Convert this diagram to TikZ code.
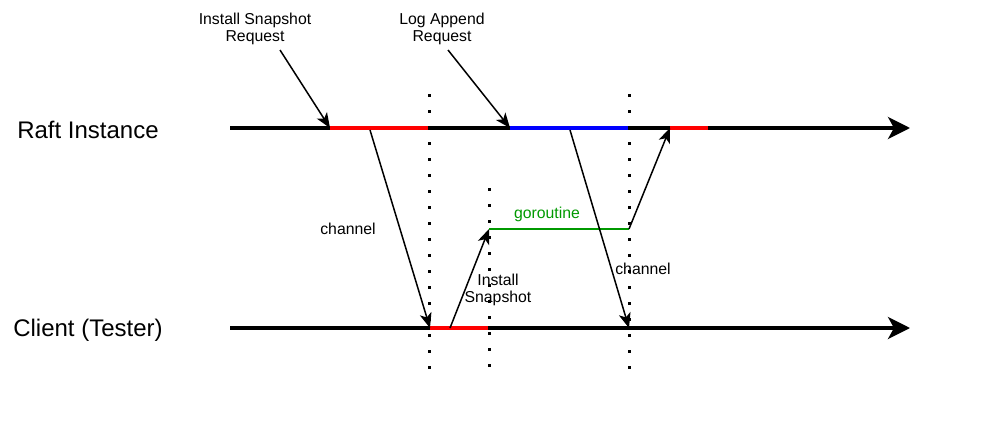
\documentclass[tikz,border=0pt]{standalone}
\usepackage{fontspec}
\setmainfont{Liberation Sans}
\usetikzlibrary{arrows.meta}
\begin{document}
\begin{tikzpicture}[x=1pt,y=-1pt,
  timeline/.style={line width=3.5pt,-{Stealth[length=22pt,width=22pt,inset=6pt]}},
  msg/.style={line width=1.5pt,-{Stealth[length=15pt,width=12pt,inset=4pt]}},
  seg/.style={line width=4.5pt},
  dotline/.style={line width=3pt,dash pattern=on 3pt off 13pt},
  lbl/.style={font=\fontsize{15.8}{17.5}\selectfont,align=center,inner sep=1pt},
  big/.style={font=\fontsize{24}{28}\selectfont,inner sep=0pt}]
\useasboundingbox (0,0) rectangle (998,444);
% labels
\node[big] (raft) at (88,130) {Raft Instance};
\node[big] (client) at (88,330) {Client (Tester)};
% coordinates
\coordinate (r0) at (230,128);
\coordinate (r1) at (910,128);
\coordinate (c0) at (230,328);
\coordinate (c1) at (910,328);
% dotted verticals
\coordinate (d1t) at (429,94); \coordinate (d1b) at (429,372);
\coordinate (d2t) at (489,188); \coordinate (d2b) at (489,372);
\coordinate (d3t) at (629,94); \coordinate (d3b) at (629,372);
\draw[dotline] (d1t) -- (d1b);
\draw[dotline] (d2t) -- (d2b);
\draw[dotline] (d3t) -- (d3b);
% timelines
\draw[timeline] (r0) -- (r1);
\draw[timeline] (c0) -- (c1);
% segments
\coordinate (ra) at (330,128); \coordinate (rb) at (428,128);
\coordinate (ba) at (510,128); \coordinate (bb) at (628,128);
\coordinate (rc) at (670,128); \coordinate (rd) at (708,128);
\coordinate (ca) at (430,328); \coordinate (cb) at (488,328);
\draw[seg,red] (ra) -- (rb);
\draw[seg,blue] (ba) -- (bb);
\draw[seg,red] (rc) -- (rd);
\draw[seg,red] (ca) -- (cb);
% top labels
\node[lbl] (isr) at (255,29) {Install Snapshot\\Request};
\node[lbl] (lar) at (442,29) {Log Append\\Request};
\draw[msg] (280,50) -- (ra);
\draw[msg] (448,50) -- (ba);
% channel 1
\coordinate (s1) at (370,130);
\draw[msg] (s1) -- (ca);
\node[lbl] (ch1) at (348,229) {channel};
% install snapshot
\coordinate (s2) at (450,328);
\coordinate (g0) at (489,229);
\coordinate (g1) at (629,229);
\draw[msg] (s2) -- (g0);
\node[lbl] (ins) at (498,290) {Install\\Snapshot};
% goroutine
\draw[line width=1.3pt,green!60!black] (g0) -- (g1);
\node[lbl,text=green!60!black] (gor) at (547,214) {goroutine};
\draw[msg] (g1) -- (rc);
% channel 2
\coordinate (s3) at (570,130);
\coordinate (e3) at (629,328);
\draw[msg] (s3) -- (e3);
\node[lbl] (ch2) at (643,269) {channel};
\end{tikzpicture}
\end{document}
